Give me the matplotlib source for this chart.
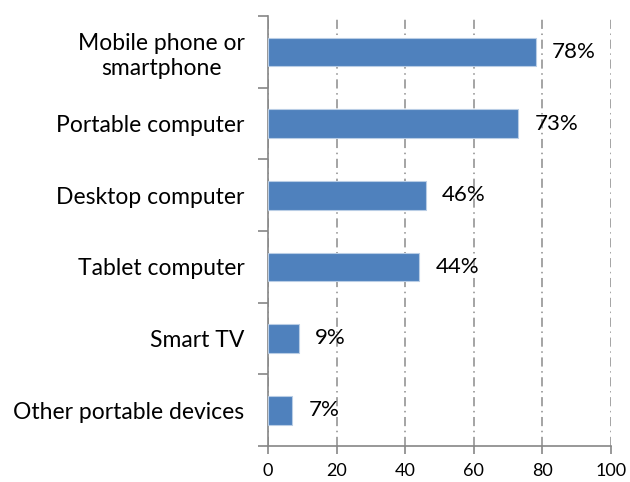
import matplotlib.pyplot as plt

plt.rcParams['font.family'] = ['Lato', 'DejaVu Sans']

devices = ['Mobile phone or\nsmartphone', 'Portable computer', 'Desktop computer',
           'Tablet computer', 'Smart TV', 'Other portable devices']
shares = [78, 73, 46, 44, 9, 7]
xticks = [0, 20, 40, 60, 80, 100]

fig = plt.figure(figsize=(6.3, 4.82), dpi=100)
ax = fig.add_axes([268 / 630, 1 - 446 / 482, (611 - 268) / 630, (446 - 16) / 482])

pos = list(range(len(devices)))
ax.barh(pos, shares, height=0.4, color='#4F81BD', edgecolor='#B9CDE5', linewidth=0.8, zorder=3)

for p, v in zip(pos, shares):
    ax.text(v + 4.8, p, f'{v}%', va='center', ha='left', fontsize=16, zorder=4)

ax.set_xlim(0, 100)
ax.set_ylim(len(devices) - 0.5, -0.5)
ax.set_xticks(xticks)
ax.set_xticklabels([str(t) for t in xticks], fontsize=13)

# category names as minor labels, tick marks on the band boundaries
ax.set_yticks([i - 0.5 for i in range(len(devices) + 1)])
ax.set_yticklabels([])
ax.set_yticks(pos, minor=True)
ax.set_yticklabels(devices, minor=True, fontsize=16.5, ha='right',
                   multialignment='center', linespacing=1.25)
ax.tick_params(axis='y', which='minor', length=0, pad=17)
ax.tick_params(axis='y', which='major', length=7, color='#868686', width=1.2)
ax.tick_params(axis='x', length=6, color='#868686', width=1.2, pad=6)

ax.xaxis.grid(True, color='#8C8C8C', linestyle=(0, (6, 3, 1, 3)), linewidth=1.1, zorder=0)

for s in ['top', 'right']:
    ax.spines[s].set_visible(False)
for s in ['left', 'bottom']:
    ax.spines[s].set_color('#868686')
    ax.spines[s].set_linewidth(1.2)

fig.savefig('out.png', dpi=100)
